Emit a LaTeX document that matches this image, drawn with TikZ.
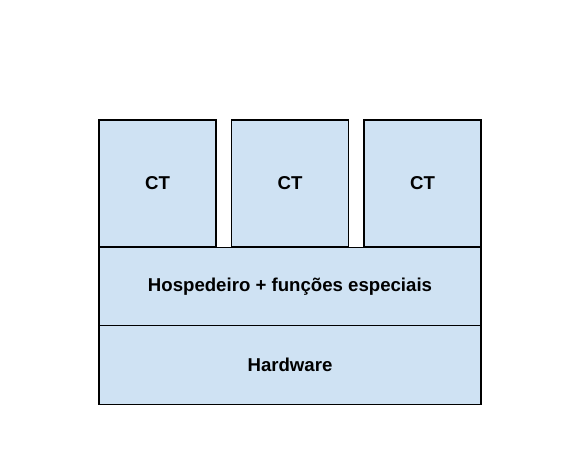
\documentclass[tikz,border=0pt]{standalone}
\usepackage{fontspec}
\setmainfont{Liberation Sans}
\usepackage{tikz}
\usetikzlibrary{positioning}

\definecolor{layerblue}{HTML}{CFE2F3}

\begin{document}
\begin{tikzpicture}[
        x=0.02cm, y=-0.02cm,
        every node/.style = {
            draw=black,
            line width=0.8pt,
            fill=layerblue,
            font=\bfseries\fontsize{10.6}{12}\selectfont,
            inner sep=0pt
        },
        ctbox/.style = {
            minimum width=2.34cm,
            minimum height=2.54cm
        },
        layerbox/.style = {
            minimum width=7.64cm,
            minimum height=1.57cm
        }]
        \useasboundingbox (0,0) rectangle (581,454);
        \node[ctbox] (ct1) at (157.5,183.5) {CT};
        \node[ctbox] (ct2) at (290,183.5) {CT};
        \node[ctbox] (ct3) at (422.5,183.5) {CT};
        \node[layerbox] (host) at (290,286.5) {Hospedeiro + funções especiais};
        \node[layerbox] (hw) at (290,365) {Hardware};
    \end{tikzpicture}
\end{document}
